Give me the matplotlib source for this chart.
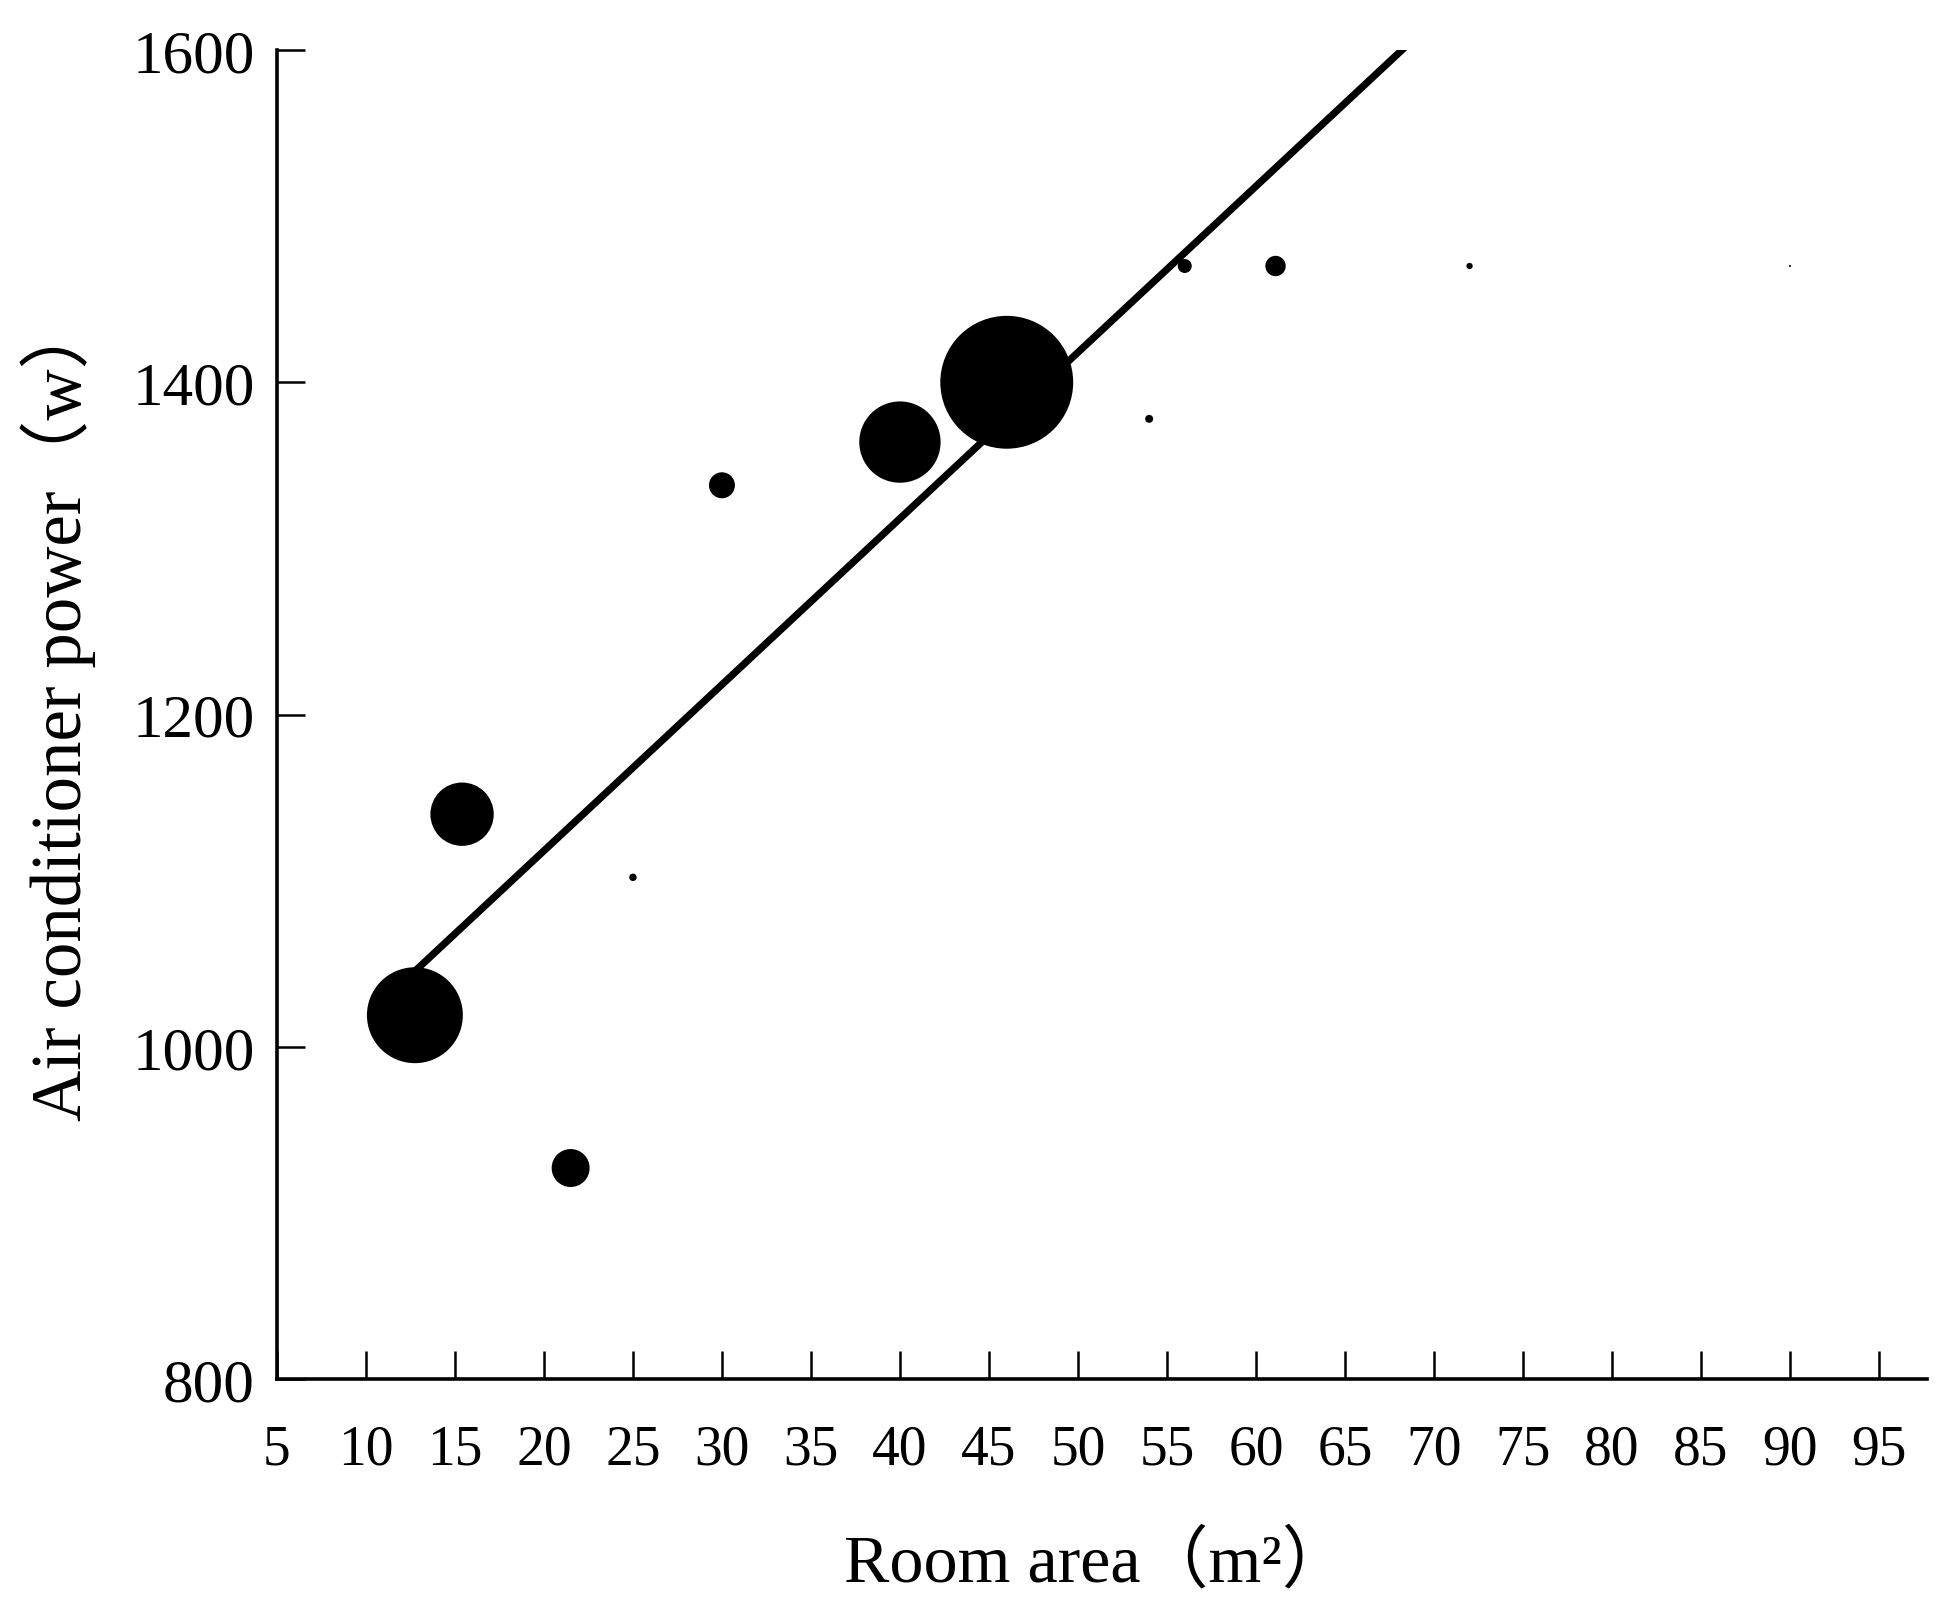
import numpy as np
import matplotlib
matplotlib.use("Agg")
import matplotlib.pyplot as plt

# ---- data ----
room_area = [12.75, 15.4, 21.5, 25.0, 30.0, 40.0, 46.0, 54.0, 56.0, 61.1, 72.0, 90.0]
ac_power = [1019, 1140, 927, 1102, 1338, 1364, 1400, 1378, 1470, 1470, 1470, 1470]
bubble_weight = [2304, 1005, 361, 14, 169, 1656, 4422, 16, 49, 104, 10, 1]
fit_slope = 10.0
fit_intercept = 918.0
x_ticks = list(range(5, 100, 5))
y_ticks = [800, 1000, 1200, 1400, 1600]

fam = ['Liberation Serif', 'Noto Sans CJK SC', 'DejaVu Sans']
plt.rcParams['font.family'] = fam

fig = plt.figure(figsize=(19.53, 16.15), dpi=100)
ax = fig.add_axes([0.1418, 0.1455, 0.8449, 0.8229])

sizes = np.array(bubble_weight) * 2.07
ax.scatter(room_area, ac_power, s=sizes, c='black', edgecolors='none', zorder=3)

xs = np.array([min(room_area), max(room_area)])
ax.plot(xs, fit_intercept + fit_slope * xs, color='black', lw=5.2, zorder=2,
        solid_capstyle='butt')

ax.set_xlim(5, 97.7)
ax.set_ylim(800, 1600)
ax.set_xticks(x_ticks)
ax.set_yticks(y_ticks)
ax.set_xticklabels([str(v) for v in x_ticks], fontsize=40)
ax.set_yticklabels([str(v) for v in y_ticks], fontsize=44)
ax.tick_params(axis='x', direction='in', length=20, width=1.8, pad=32)
ax.tick_params(axis='y', direction='in', length=20, width=1.8, pad=16)

for s in ['top', 'right']:
    ax.spines[s].set_visible(False)
for s in ['left', 'bottom']:
    ax.spines[s].set_linewidth(2.6)

ax.set_xlabel('Room area（m²）', fontsize=49)
ax.set_ylabel('Air conditioner power（w）', fontsize=51)
ax.xaxis.set_label_coords(0.497, -0.1377)
ax.xaxis.label.set_va('center')
ax.yaxis.set_label_coords(-0.1327, 0.505)
ax.yaxis.label.set_va('center')

fig.savefig('out.png', dpi=100, facecolor='white')
